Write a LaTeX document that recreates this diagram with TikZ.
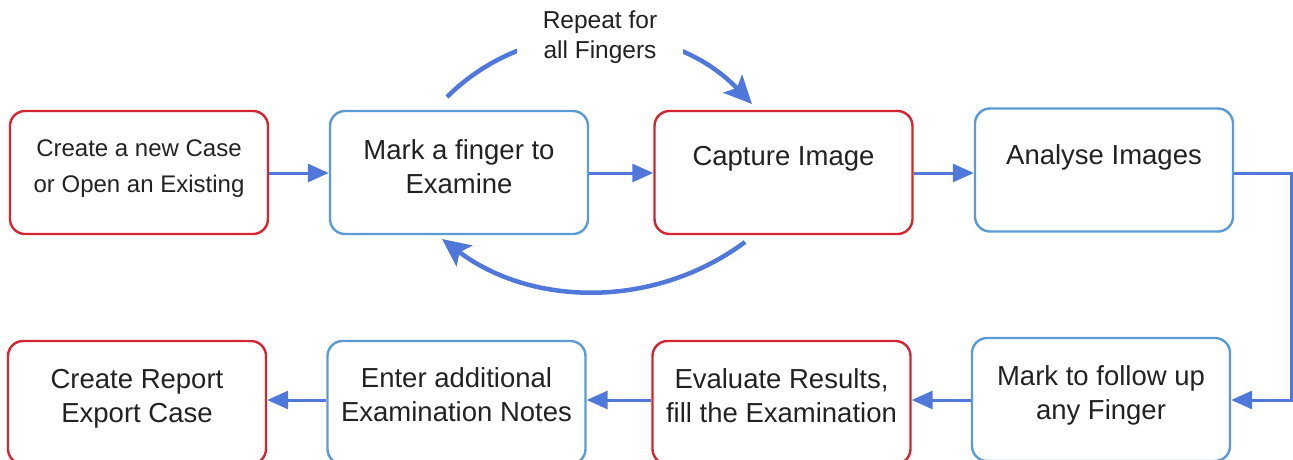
\documentclass[tikz,border=0pt]{standalone}
\usepackage{fontspec}
\setmainfont{Liberation Sans}
\usetikzlibrary{arrows.meta}
\definecolor{boxred}{RGB}{212,38,48}
\definecolor{boxblue}{RGB}{91,155,213}
\definecolor{arrblue}{RGB}{79,120,218}
\definecolor{txtgray}{RGB}{34,34,34}
\tikzset{
  box/.style={draw, line width=2.4pt, rounded corners=15pt, minimum width=258pt, minimum height=123pt, inner sep=0pt},
  redbox/.style={box, draw=boxred},
  bluebox/.style={box, draw=boxblue},
  txt/.style={text=txtgray, align=center, font=\fontsize{27.5}{34}\selectfont, inner sep=0pt},
  smalltxt/.style={txt, font=\fontsize{24}{36}\selectfont},
  arr/.style={draw=arrblue, line width=3pt, -{Triangle[length=21pt,width=18pt]}},
  carr/.style={draw=arrblue, line width=4.5pt, -{Stealth[length=28pt,width=26pt,inset=6pt]}}
}
\begin{document}
\begin{tikzpicture}[x=1pt,y=-1pt]
\useasboundingbox (0,0) rectangle (1293,459);
\clip (0,0) rectangle (1293,459);
% boxes
\node[redbox]  (b1) at (139,172.5) {};
\node[bluebox] (b2) at (459,172.5) {};
\node[redbox]  (b3) at (783.5,172.5) {};
\node[bluebox] (b4) at (1104,170) {};
\node[redbox]  (b5) at (137,402.5) {};
\node[bluebox] (b6) at (456.5,402.5) {};
\node[redbox]  (b7) at (781.5,402.5) {};
\node[bluebox] (b8) at (1101,399.5) {};
% texts
\node[smalltxt] (t1) at (139,169) {Create a new Case\\or Open an Existing};
\node[txt] (t2) at (459,167) {Mark a finger to\\Examine};
\node[txt] (t3) at (783.5,159) {Capture Image};
\node[txt] (t4) at (1104,157) {Analyse Images};
\node[txt] (t5) at (137,399) {Create Report\\Export Case};
\node[txt] (t6) at (456.5,394.5) {Enter additional\\Examination Notes};
\node[txt] (t7) at (781.5,395.5) {Evaluate Results,\\fill the Examination};
\node[txt] (t8) at (1101,395) {Mark to follow up\\any Finger};
% row coordinates
\coordinate (rowA) at (0,173);
\coordinate (rowB) at (0,400);
% straight connectors
\draw[arr] (b1.east |- rowA) -- (b2.west |- rowA);
\draw[arr] (b2.east |- rowA) -- (b3.west |- rowA);
\draw[arr] (b3.east |- rowA) -- (b4.west |- rowA);
\coordinate (rc) at (1291.5,173);
\draw[arr] (b4.east |- rowA) -- (rc) |- (b8.east |- rowB);
\draw[arr] (b8.west |- rowB) -- (b7.east |- rowB);
\draw[arr] (b7.west |- rowB) -- (b6.east |- rowB);
\draw[arr] (b6.west |- rowB) -- (b5.east |- rowB);
% curved connectors
\coordinate (c1s) at (447,97);
\coordinate (c1e) at (752,104);
\draw[carr] (c1s) .. controls (530,14) and (669,17) .. (c1e);
\node[txt, fill=white, inner xsep=26pt, inner ysep=8pt, font=\fontsize{24.5}{30}\selectfont] (rep) at (600,37) {Repeat for\\all Fingers};
\coordinate (c2s) at (745,242);
\coordinate (c2e) at (442,239);
\draw[carr] (c2s) .. controls (655,309) and (532,307) .. (c2e);
\end{tikzpicture}
\end{document}
